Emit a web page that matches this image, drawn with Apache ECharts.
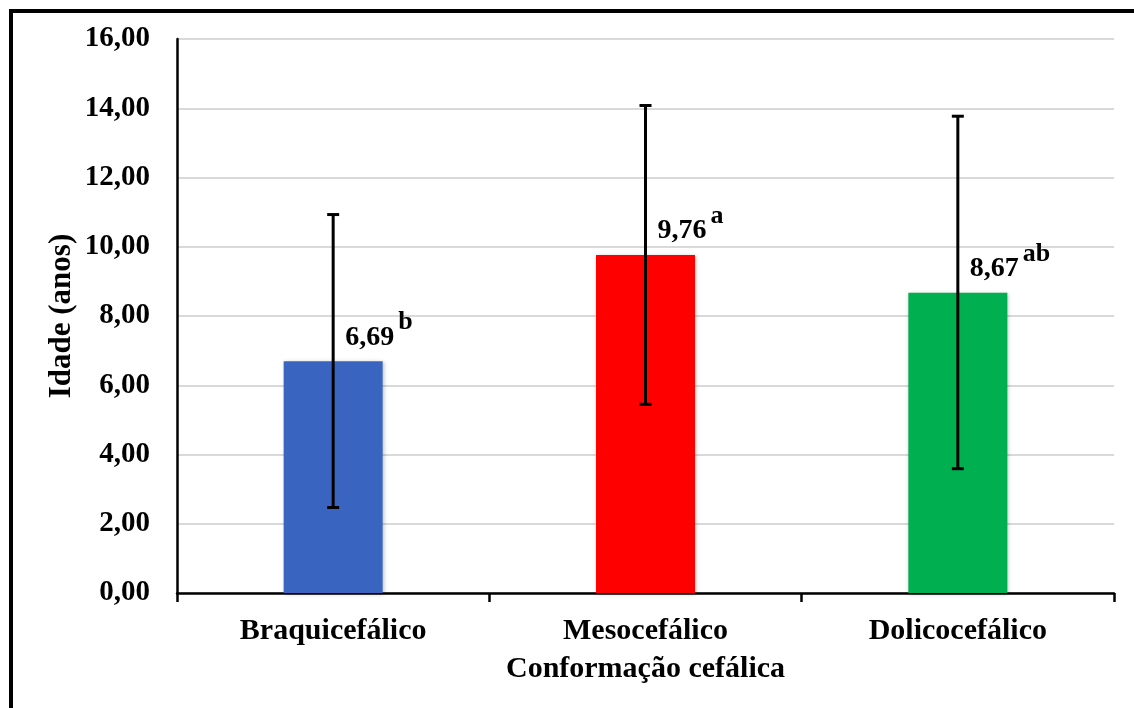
<!DOCTYPE html>
<html>
<head>
<meta charset="utf-8">
<script src="https://cdn.jsdelivr.net/npm/echarts@6/dist/echarts.min.js"></script>
<style>html,body{margin:0;padding:0;background:#fff}#c{width:1134px;height:708px}</style>
</head>
<body>
<div id="c"></div>
<script>
const categories = ['Braquicefálico', 'Mesocefálico', 'Dolicocefálico'];
const means = [6.69, 9.76, 8.67];
const letters = ['b', 'a', 'ab'];
const errLow = [2.47, 5.45, 3.59];
const errHigh = [10.93, 14.08, 13.77];
const colors = ['#3965C0', '#FF0000', '#00B050'];
const yTicks = [0, 2, 4, 6, 8, 10, 12, 14, 16];

const FONT = '"Liberation Serif", "Times New Roman", serif';
const chart = echarts.init(document.getElementById('c'), null, {renderer: 'canvas'});

chart.setOption({
  animation: false,
  backgroundColor: '#fff',
  graphic: [{
    type: 'rect', z: 100,
    shape: {x: 11, y: 11, width: 1200, height: 800},
    style: {fill: 'none', stroke: '#000', lineWidth: 4}
  }],
  grid: {left: 177, right: 20, top: 39, bottom: 115, containLabel: false},
  xAxis: {
    type: 'category',
    data: categories,
    name: 'Conformação cefálica',
    nameLocation: 'middle',
    nameGap: 61,
    nameMoveOverlap: false,
    nameTextStyle: {fontFamily: FONT, fontWeight: 'bold', fontSize: 30, color: '#000'},
    axisLine: {lineStyle: {color: '#000', width: 2.5}},
    axisTick: {show: true, alignWithLabel: false, interval: 0, length: 9, lineStyle: {color: '#000', width: 2.5}},
    axisLabel: {fontFamily: FONT, fontWeight: 'bold', fontSize: 30, color: '#000', margin: 23, interval: 0}
  },
  yAxis: {
    type: 'value',
    min: yTicks[0], max: yTicks[yTicks.length - 1], interval: 2,
    name: 'Idade (anos)',
    nameLocation: 'middle',
    nameGap: 100,
    nameMoveOverlap: false,
    nameTextStyle: {fontFamily: FONT, fontWeight: 'bold', fontSize: 31, color: '#000'},
    axisLine: {show: true, lineStyle: {color: '#000', width: 2.5}},
    axisTick: {show: false},
    splitLine: {lineStyle: {color: '#d9d9d9', width: 2}},
    axisLabel: {
      fontFamily: FONT, fontWeight: 'bold', fontSize: 29, color: '#000', margin: 27,
      formatter: v => v.toFixed(2).replace('.', ',')
    }
  },
  series: [{
    type: 'bar',
    barWidth: 99,
    data: means.map((v, i) => ({value: v, itemStyle: {color: colors[i]}})),
    itemStyle: {shadowBlur: 4, shadowColor: 'rgba(0,0,0,0.25)', shadowOffsetX: 1, shadowOffsetY: 1},
    label: {
      show: true,
      position: 'top',
      distance: 10,
      align: 'left',
      offset: [12, 0],
      formatter: p => '{v|' + p.value.toFixed(2).replace('.', ',') + '}{s|' + letters[p.dataIndex] + '}',
      rich: {
        v: {fontFamily: FONT, fontWeight: 'bold', fontSize: 28, color: '#000', verticalAlign: 'bottom'},
        s: {fontFamily: FONT, fontWeight: 'bold', fontSize: 26, color: '#000', verticalAlign: 'bottom', padding: [0, 0, 16, 4]}
      }
    }
  }, {
    type: 'custom',
    z: 10,
    data: categories.map((c, i) => [i, errLow[i], errHigh[i]]),
    renderItem: (params, api) => {
      const lo = api.coord([api.value(0), api.value(1)]);
      const hi = api.coord([api.value(0), api.value(2)]);
      const x = lo[0], hw = 6;
      const st = {stroke: '#000', lineWidth: 3};
      return {type: 'group', children: [
        {type: 'line', shape: {x1: x, y1: lo[1], x2: x, y2: hi[1]}, style: st},
        {type: 'line', shape: {x1: x - hw, y1: lo[1], x2: x + hw, y2: lo[1]}, style: st},
        {type: 'line', shape: {x1: x - hw, y1: hi[1], x2: x + hw, y2: hi[1]}, style: st}
      ]};
    }
  }]
});
</script>
</body>
</html>
